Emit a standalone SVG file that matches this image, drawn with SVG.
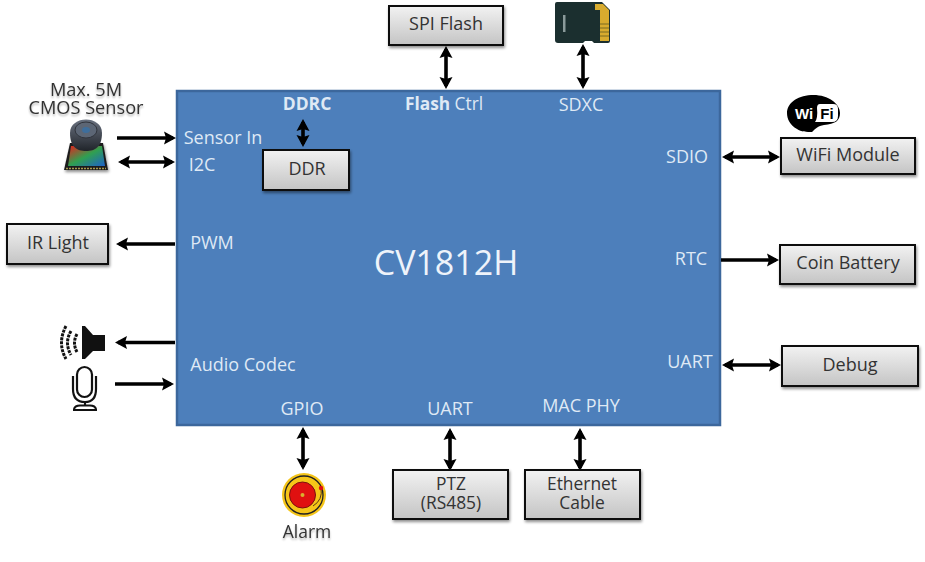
<svg xmlns="http://www.w3.org/2000/svg" width="925" height="562" viewBox="0 0 925 562">
<defs>
<linearGradient id="g" x1="0" y1="0" x2="0" y2="1"><stop offset="0" stop-color="#f2f2f2"/><stop offset="1" stop-color="#c4c4c4"/></linearGradient>
<linearGradient id="rgb" x1="0" y1="0" x2="1" y2="1"><stop offset="0" stop-color="#e8201c"/><stop offset=".5" stop-color="#30a050"/><stop offset="1" stop-color="#1e62c8"/></linearGradient>
<linearGradient id="lens" x1="0" y1="0" x2="0" y2="1"><stop offset="0" stop-color="#6a7280"/><stop offset="1" stop-color="#20242a"/></linearGradient>
<filter id="sh" x="-10%" y="-10%" width="125%" height="135%"><feGaussianBlur in="SourceAlpha" stdDeviation="1.5"/><feOffset dx="1" dy="2"/><feComponentTransfer><feFuncA type="linear" slope=".45"/></feComponentTransfer><feMerge><feMergeNode/><feMergeNode in="SourceGraphic"/></feMerge></filter>
<filter id="ts" x="-10%" y="-20%" width="120%" height="150%"><feGaussianBlur in="SourceAlpha" stdDeviation="1.2"/><feOffset dy="2"/><feComponentTransfer><feFuncA type="linear" slope=".3"/></feComponentTransfer><feMerge><feMergeNode/><feMergeNode in="SourceGraphic"/></feMerge></filter>
<marker id="a" markerUnits="userSpaceOnUse" markerWidth="14" markerHeight="14" refX="9" refY="7" orient="auto-start-reverse"><path d="M0 .5 L12 7 L0 13.5 L2 7 Z" fill="#000"/></marker>
</defs>
<style>
text{font-family:"Open Sans","Noto Sans","Liberation Sans",sans-serif;text-anchor:middle}
.box{fill:url(#g);stroke:#111;stroke-width:2;filter:url(#sh)}
.bl{font-size:18px;fill:#333}
.lb{font-size:17.4px;fill:#333}
.w{font-size:18px;fill:#dfe9f5}
.k{font-size:18.2px;fill:#333}
.c{fill:none;stroke:#000;stroke-width:3.6;marker-end:url(#a)}
.d{marker-start:url(#a)}
</style>
<g id="chip-CV1812H">
<rect x="177" y="91" width="543" height="334" fill="#4d7fbb" stroke="#3c679c" stroke-width="2.5"/>
<text x="446" y="275" font-size="34" fill="#eef3fa">CV1812H</text>
<text x="307" y="110" class="w" style="font-weight:700;font-size:17.5px">DDRC</text>
<text x="444" y="110" class="w" style="font-size:17.3px"><tspan font-weight="700">Flash</tspan> Ctrl</text>
<text x="581" y="111" class="w">SDXC</text>
<text x="223" y="144" class="w">Sensor In</text>
<text x="202" y="171" class="w">I2C</text>
<text x="212" y="249" class="w">PWM</text>
<text x="243" y="371" class="w">Audio Codec</text>
<text x="302" y="415" class="w">GPIO</text>
<text x="450" y="415" class="w">UART</text>
<text x="581" y="412" class="w">MAC PHY</text>
<text x="687" y="163" class="w">SDIO</text>
<text x="691" y="265" class="w">RTC</text>
<text x="690" y="368" class="w">UART</text>
</g>
<g id="connectors">
<path class="c" d="M117 138H173"/>
<path class="c d" d="M121 162H172"/>
<path class="c d" d="M303 122V144"/>
<path class="c" d="M175 244H119"/>
<path class="c" d="M175 342.500H118"/>
<path class="c" d="M115 384H171"/>
<path class="c d" d="M446 49V86"/>
<path class="c d" d="M583 47V86"/>
<path class="c d" d="M725 157H777"/>
<path class="c" d="M721 260H776"/>
<path class="c d" d="M725 365H778"/>
<path class="c d" d="M303 430V467"/>
<path class="c d" d="M450 431V468"/>
<path class="c d" d="M580 431V468"/>
</g>
<g id="node-sensor">
<text x="86" y="96" class="k" filter="url(#ts)">Max. 5M</text>
<text x="86" y="114" class="k" filter="url(#ts)">CMOS Sensor</text>
<path d="M70 143 H103 L108 170 H64Z" fill="#1c1c1c" filter="url(#sh)"/>
<path d="M71 146 H102 L105 166 H68Z" fill="url(#rgb)"/>
<path d="M66 168.500H106" stroke="#a89a50" stroke-width="1.500" stroke-dasharray="2 1"/>
<path d="M70 133 C70 115 102 115 102 133 C102 147 95 151 86 151 C77 151 70 147 70 133Z" fill="url(#lens)"/>
<ellipse cx="86" cy="130" rx="11" ry="8" fill="#5c6675" stroke="#30343c"/>
<ellipse cx="86" cy="130" rx="4" ry="3" fill="#3e6e9c"/>
</g>
<g id="node-ddr"><rect class="box" x="263" y="150" width="86" height="40"/><text x="307" y="175" class="bl">DDR</text></g>
<g id="node-ir"><rect class="box" x="7" y="224" width="101" height="40"/><text x="58" y="249" class="bl">IR Light</text></g>
<g id="node-spi"><rect class="box" x="389" y="6" width="114" height="39"/><text x="446" y="30" class="bl">SPI Flash</text></g>
<g id="node-sd">
<path d="M557 2 H602 L610 10 V41 Q610 43 608 43 H594 L592 41 H585 L583 43 H558 Q555 43 555 40 V4 Q555 2 557 2Z" fill="#1b2f2f"/>
<path d="M595 4 H603 L609 10 V41 H600 V10 H595Z" fill="#d8ab2e"/>
<path d="M600 24H609M600 28H609M600 32H609M600 36H609" stroke="#7a6a20" stroke-width="1"/>
<rect x="563" y="15" width="2.500" height="17" fill="#8a9a9a"/>
</g>
<g id="node-wifilogo">
<path d="M797 129 C790 125 787 119 787 113 C787 104 796 96 811 95 C827 94 840 103 840 113 C840 121 835 124 824 125 C818 126 815 129 812 132 C807 132 801 132 797 129Z" fill="#000"/>
<text x="804" y="119" font-size="15" font-weight="700" style="fill:#fff;font-family:'Liberation Sans',sans-serif">Wi</text>
<path d="M820 104 H833 Q838 104 838 109 V116 Q838 122 832 122 H815 Q818 118 817 108 Q817 104 820 104Z" fill="#fff"/>
<text x="827" y="119" font-size="15" font-weight="700" style="fill:#000;font-family:'Liberation Sans',sans-serif">Fi</text>
</g>
<g id="node-wifi"><rect class="box" x="781" y="138" width="134" height="36"/><text x="848" y="161" class="bl">WiFi Module</text></g>
<g id="node-battery"><rect class="box" x="780" y="245" width="135" height="39"/><text x="848" y="269" class="bl">Coin Battery</text></g>
<g id="node-debug"><rect class="box" x="782" y="346" width="136" height="40"/><text x="850" y="371" class="bl">Debug</text></g>
<g id="node-speaker">
<path d="M82 326 H85 L93 335 H105 V351 H93 L85 359 H82Z" fill="#111"/>
<path d="M77 334 Q72 343 77 352 M71 331 Q64 343 71 355 M66 326 Q57 343 66 359" fill="none" stroke="#111" stroke-width="3" stroke-dasharray="3 1"/>
</g>
<g id="node-mic" fill="none" stroke="#111" stroke-width="2.200">
<rect x="77" y="367" width="15" height="30" rx="7.500"/>
<path d="M73 376 V389 Q73 402 85 402 Q96 402 96 389 V376 M85 402 V406 M74 409 Q75 405.500 80 405.500 H90 Q95 405.500 96 409 M73 410H97"/>
</g>
<g id="node-alarm">
<circle cx="304" cy="495" r="22" fill="#f5c518"/>
<circle cx="304" cy="495" r="19" fill="none" stroke="#222" stroke-width="1.300"/>
<circle cx="302.500" cy="495" r="13" fill="#e01010" stroke="#7a1010"/>
<circle cx="302.500" cy="495" r="2" fill="#d8b030"/>
<path d="M321 488 Q323 500 313 506" fill="none" stroke="#5a3a10"/>
<circle cx="321" cy="488" r="2.200" fill="#e01010"/>
<text x="307" y="538" class="k" filter="url(#ts)" style="font-size:17.5px">Alarm</text>
</g>
<g id="node-ptz"><rect class="box" x="393" y="470" width="115" height="49"/><text x="451" y="490" class="lb">PTZ</text><text x="451" y="509" class="lb">(RS485)</text></g>
<g id="node-eth"><rect class="box" x="525" y="470" width="115" height="49"/><text x="582" y="490" class="lb">Ethernet</text><text x="582" y="509" class="lb">Cable</text></g>
</svg>
